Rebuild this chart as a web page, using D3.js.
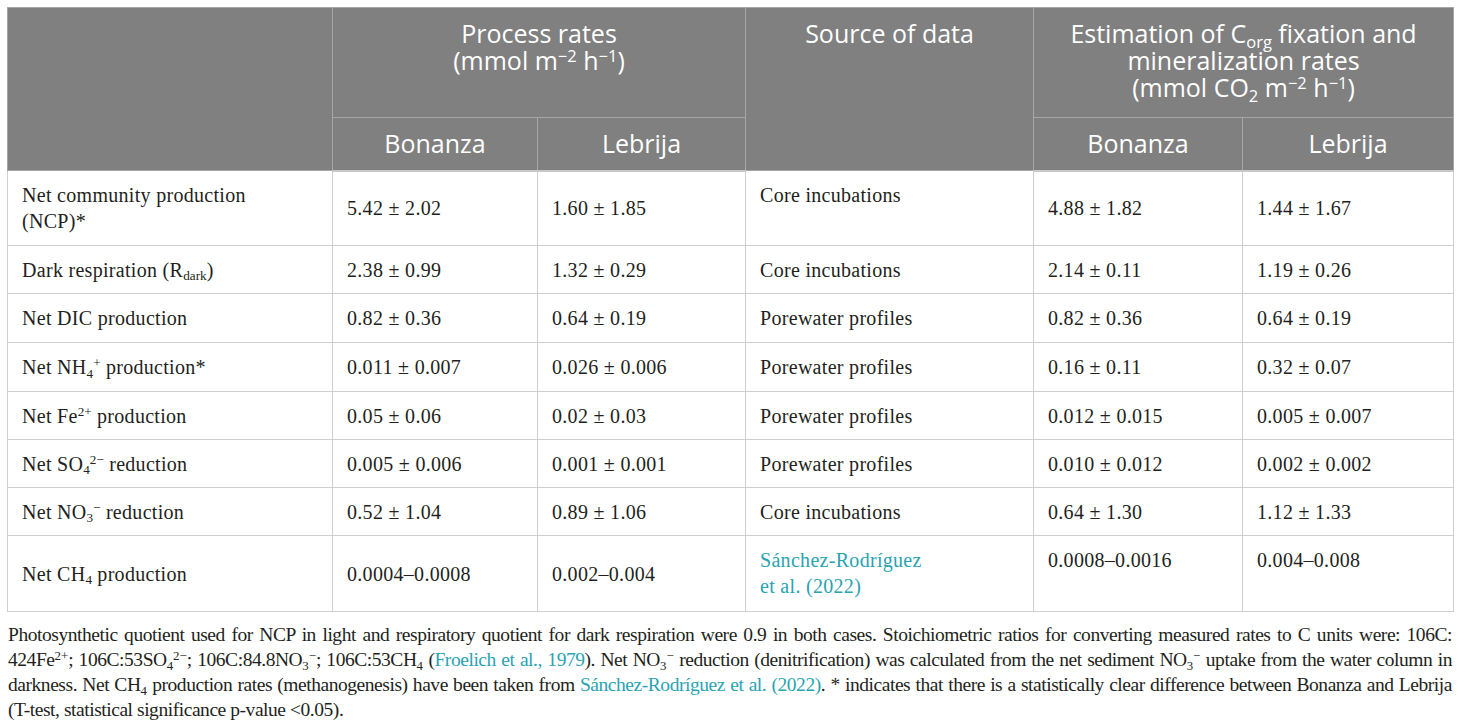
<!DOCTYPE html>
<html>
<head>
<meta charset="utf-8">
<script src="https://cdn.jsdelivr.net/npm/d3@7"></script>
<style>
  body { margin: 0; background: #fff; }
  #chart { position: absolute; left: 7px; top: 7px; width: 1446px; }
  table { border-collapse: collapse; table-layout: fixed; width: 1446px; }
  th {
    background: #808080; color: #fff; font-family: "Open Sans", sans-serif;
    font-weight: 400; font-size: 25px; line-height: 27px; text-align: center;
    border: 1px solid #a6a6a6; padding: 0 4px;
  }
  th.top { vertical-align: top; padding-top: 12px; }
  thead tr:last-child th { border-bottom: 2px solid #c8c8c8; }
  td {
    font-family: "Liberation Serif", "Times New Roman", serif; font-size: 20px;
    letter-spacing: 0.3px; line-height: 26px; color: #231f20; border: 1px solid #cfcfcf;
    padding: 0 8px 0 14px; vertical-align: middle;
  }
  td.top { vertical-align: top; padding-top: 11px; }
  sup, sub { font-size: 0.66em; line-height: 0; position: relative; vertical-align: baseline; letter-spacing: 0; }
  sup { top: -0.5em; }
  sub { top: 0.3em; }
  .link { color: #2aa3b3; }
  #note {
    position: absolute; left: 8px; top: 622px; width: 1444px;
    font-family: "Liberation Serif", "Times New Roman", serif; font-size: 19.5px;
    letter-spacing: -0.45px; line-height: 25px; color: #231f20;
  }
  #note div { text-align: justify; text-align-last: justify; }
  #note div.last { text-align-last: left; }
</style>
</head>
<body>
<div id="chart"></div>
<div id="note"></div>
<script>
// row labels (process names)
const processes = [
  "Net community production<br>(NCP)*",
  "Dark respiration (R<sub>dark</sub>)",
  "Net DIC production",
  "Net NH<sub>4</sub><sup>+</sup> production*",
  "Net Fe<sup>2+</sup> production",
  "Net SO<sub>4</sub><sup>2−</sup> reduction",
  "Net NO<sub>3</sub><sup>−</sup> reduction",
  "Net CH<sub>4</sub> production"
];

// process rates (mmol m-2 h-1)
const bonanzaRates = ["5.42 ± 2.02", "2.38 ± 0.99", "0.82 ± 0.36", "0.011 ± 0.007",
  "0.05 ± 0.06", "0.005 ± 0.006", "0.52 ± 1.04", "0.0004–0.0008"];
const lebrijaRates = ["1.60 ± 1.85", "1.32 ± 0.29", "0.64 ± 0.19", "0.026 ± 0.006",
  "0.02 ± 0.03", "0.001 ± 0.001", "0.89 ± 1.06", "0.002–0.004"];

const sources = ["Core incubations", "Core incubations", "Porewater profiles", "Porewater profiles",
  "Porewater profiles", "Porewater profiles", "Core incubations",
  "<span class='link'>Sánchez-Rodríguez<br>et al. (2022)</span>"];

// estimated Corg fixation / mineralization (mmol CO2 m-2 h-1)
const bonanzaCarbon = ["4.88 ± 1.82", "2.14 ± 0.11", "0.82 ± 0.36", "0.16 ± 0.11",
  "0.012 ± 0.015", "0.010 ± 0.012", "0.64 ± 1.30", "0.0008–0.0016"];
const lebrijaCarbon = ["1.44 ± 1.67", "1.19 ± 0.26", "0.64 ± 0.19", "0.32 ± 0.07",
  "0.005 ± 0.007", "0.002 ± 0.002", "1.12 ± 1.33", "0.004–0.008"];

const sites = ["Bonanza", "Lebrija"];

const footnoteLines = [
  "Photosynthetic quotient used for NCP in light and respiratory quotient for dark respiration were 0.9 in both cases. Stoichiometric ratios for converting measured rates to C units were: 106C:",
  "424Fe<sup>2+</sup>; 106C:53SO<sub>4</sub><sup>2−</sup>; 106C:84.8NO<sub>3</sub><sup>−</sup>; 106C:53CH<sub>4</sub> (<span class='link'>Froelich et al., 1979</span>). Net NO<sub>3</sub><sup>−</sup> reduction (denitrification) was calculated from the net sediment NO<sub>3</sub><sup>−</sup> uptake from the water column in",
  "darkness. Net CH<sub>4</sub> production rates (methanogenesis) have been taken from <span class='link'>Sánchez-Rodríguez et al. (2022)</span>. * indicates that there is a statistically clear difference between Bonanza and Lebrija",
  "(T-test, statistical significance p-value &lt;0.05)."
];

// layout
const colWidths = [325, 205, 208, 288, 209, 211];
const headRowHeights = [110, 53];
const rowHeights = [75, 48, 49, 49, 48, 48, 48, 76];

const table = d3.select("#chart").append("table");

table.append("colgroup")
  .selectAll("col")
  .data(colWidths)
  .join("col")
  .style("width", d => d + "px");

const thead = table.append("thead");

const h1 = thead.append("tr").style("height", headRowHeights[0] + "px");
h1.append("th").attr("rowspan", 2);
h1.append("th").attr("colspan", 2).attr("class", "top")
  .html("Process rates<br>(mmol m<sup>−2</sup> h<sup>−1</sup>)");
h1.append("th").attr("rowspan", 2).attr("class", "top").text("Source of data");
h1.append("th").attr("colspan", 2).attr("class", "top")
  .html("Estimation of C<sub>org</sub> fixation and<br>mineralization rates<br>(mmol CO<sub>2</sub> m<sup>−2</sup> h<sup>−1</sup>)");

thead.append("tr").style("height", headRowHeights[1] + "px")
  .selectAll("th")
  .data(sites.concat(sites))
  .join("th")
  .text(d => d);

const rows = processes.map((p, i) => [
  p, bonanzaRates[i], lebrijaRates[i], sources[i], bonanzaCarbon[i], lebrijaCarbon[i]
]);

const last = rows.length - 1;

table.append("tbody")
  .selectAll("tr")
  .data(rows)
  .join("tr")
  .style("height", (d, i) => rowHeights[i] + "px")
  .each(function(cells, i) {
    d3.select(this).selectAll("td")
      .data(cells)
      .join("td")
      .attr("class", (d, j) => (j === 3 || (i === last && j > 3)) ? "top" : null)
      .html(d => d);
  });

d3.select("#note")
  .selectAll("div")
  .data(footnoteLines)
  .join("div")
  .attr("class", (d, i) => i === footnoteLines.length - 1 ? "last" : null)
  .html(d => d);
</script>
</body>
</html>
